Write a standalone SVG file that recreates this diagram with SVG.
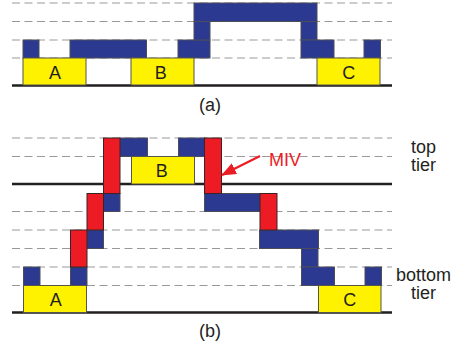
<svg xmlns="http://www.w3.org/2000/svg" width="456" height="350" viewBox="0 0 456 350">
<style>
text{font-family:"Liberation Sans",Arial,sans-serif;fill:#231f20;font-size:18px}
.d{stroke:#999;stroke-width:1;stroke-dasharray:8 4.500;fill:none}
.g{stroke:#231f20;stroke-width:2.600;fill:none}
.m{fill:#2b3990;stroke:#4d4d5a;stroke-width:1}
.r{fill:#ed1c24;stroke:#3a2226;stroke-width:1}
.y{fill:#fff200;stroke:#55554a;stroke-width:1}
.l{text-anchor:middle}
</style>
<defs><marker id="ah" markerWidth="16" markerHeight="14" refX="14" refY="6" orient="auto" markerUnits="userSpaceOnUse"><path d="M0 0L15 6L0 12Z" fill="#ed1c24"/></marker></defs>
<rect width="456" height="350" fill="#fff"/>
<g id="grid">
<path class="d" d="M12 3H392M12 21.500H392M12 40H392M12 58H392M12 138H392M12 156.500H392M12 211.500H392M12 230H392M12 248.500H392M12 267H392M12 285.500H392"/>
<path class="g" d="M12 85.500H392M12 184H392M12 312.500H392"/>
</g>
<g id="wires-a">
<rect class="m" x="23" y="40" width="16" height="18"/>
<rect class="m" x="70" y="40" width="76.500" height="18"/>
<rect class="m" x="178" y="40" width="32" height="18"/>
<rect class="m" x="194" y="21.500" width="16" height="18.500"/>
<rect class="m" x="194" y="3" width="123" height="18.500"/>
<rect class="m" x="301" y="21.500" width="16" height="18.500"/>
<rect class="m" x="301" y="40" width="33" height="18"/>
<rect class="m" x="364" y="40" width="16.500" height="18"/>
</g>
<g id="node-a-A"><rect class="y" x="23" y="58" width="63" height="27"/><text class="l" x="55" y="79">A</text></g>
<g id="node-a-B"><rect class="y" x="131" y="58" width="63" height="27"/><text class="l" x="160.700" y="79">B</text></g>
<g id="node-a-C"><rect class="y" x="317" y="58" width="63" height="27"/><text class="l" x="348.700" y="79">C</text></g>
<text id="label-a" class="l" x="210" y="111">(a)</text>
<g id="wires-b">
<rect class="m" x="120" y="138" width="27.500" height="18.500"/>
<rect class="m" x="178.500" y="138" width="26" height="18.500"/>
<rect class="m" x="103.500" y="193.500" width="16.500" height="18"/>
<rect class="m" x="87" y="230" width="16.500" height="18.500"/>
<rect class="m" x="70.500" y="267" width="16.500" height="18.500"/>
<rect class="m" x="23.500" y="267" width="16.500" height="18.500"/>
<rect class="m" x="204.500" y="193.500" width="55.500" height="18"/>
<rect class="m" x="259.500" y="230" width="59" height="18.500"/>
<rect class="m" x="301.500" y="248.500" width="16.500" height="18.500"/>
<rect class="m" x="301.500" y="267" width="33" height="18.500"/>
<rect class="m" x="365" y="267" width="16.500" height="18.500"/>
</g>
<g id="mivs">
<rect class="r" x="103.500" y="138" width="16.500" height="55.500"/>
<rect class="r" x="87" y="193.500" width="16.500" height="36.500"/>
<rect class="r" x="70.500" y="230" width="16.500" height="37"/>
<rect class="r" x="204.500" y="138" width="17" height="55.500"/>
<rect class="r" x="260" y="193.500" width="17" height="36.500"/>
</g>
<g id="node-b-B"><rect class="y" x="131.500" y="156.500" width="63" height="27.500"/><text class="l" x="161.700" y="177">B</text></g>
<g id="node-b-A"><rect class="y" x="23.500" y="285.500" width="63" height="27"/><text class="l" x="55.700" y="306">A</text></g>
<g id="node-b-C"><rect class="y" x="318.500" y="285.500" width="62.500" height="27"/><text class="l" x="349.700" y="306">C</text></g>
<g id="connectors"><path d="M260 156L222 175" stroke="#ed1c24" stroke-width="2.200" fill="none" marker-end="url(#ah)"/></g>
<text id="miv" x="269" y="166" style="fill:#ed1c24">MIV</text>
<text x="411" y="153">top</text>
<text x="411" y="171">tier</text>
<text x="396" y="281">bottom</text>
<text x="411" y="298.500">tier</text>
<text id="label-b" class="l" x="210" y="337">(b)</text>
</svg>
